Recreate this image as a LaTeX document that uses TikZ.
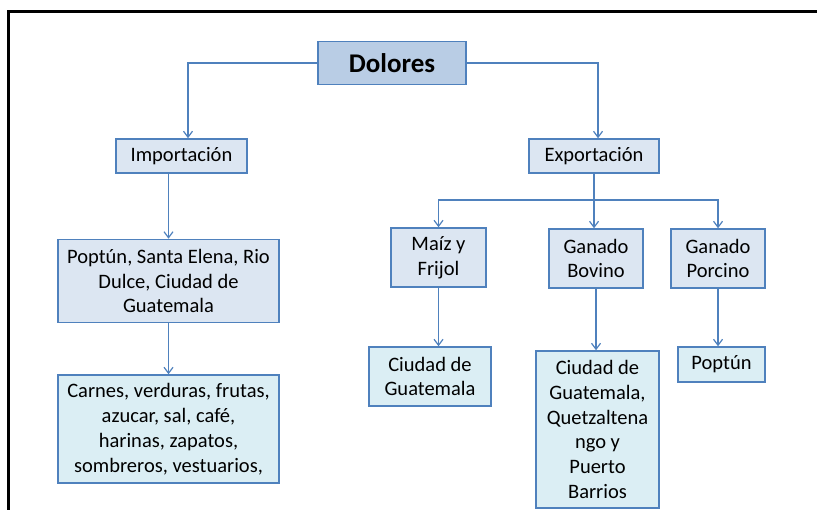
\documentclass[tikz,border=0pt]{standalone}
\usepackage{fontspec}
\setmainfont{Carlito}
\usetikzlibrary{arrows.meta}
\definecolor{lineblue}{HTML}{4F81BD}
\definecolor{topfill}{HTML}{B9CDE5}
\definecolor{midfill}{HTML}{DCE6F2}
\definecolor{lowfill}{HTML}{DBEEF4}
\tikzset{
  box/.style={draw=lineblue, line width=1.5pt, inner sep=0pt, align=center,
    font=\fontsize{20.5}{24.8}\selectfont},
  midbox/.style={box, fill=midfill},
  lowbox/.style={box, fill=lowfill},
  conn/.style={draw=lineblue, line width=1.4pt},
  arr/.style={conn, -{Straight Barb[length=6pt,width=9pt,line width=1.2pt]}},
}
\begin{document}
\begin{tikzpicture}[x=1pt,y=-1pt]
\useasboundingbox (0,0) rectangle (817,510);
\draw[line width=3pt, black] (817,11.3) -- (8.8,11.3) -- (8.8,510);

\node[box, fill=topfill, minimum width=148pt, minimum height=43pt,
  font=\fontsize{27}{30}\selectfont\bfseries] (dol) at (392,63) {Dolores};
\node[midbox, minimum width=131pt, minimum height=34pt] (imp) at (181.5,156) {Importación};
\node[midbox, minimum width=130pt, minimum height=34pt] (exp) at (594,156) {Exportación};
\node[midbox, minimum width=221pt, minimum height=83pt] (pop) at (168.5,281)
  {Poptún, Santa Elena, Rio\\Dulce, Ciudad de\\Guatemala};
\node[lowbox, minimum width=221pt, minimum height=108pt] (car) at (168.5,429)
  {Carnes, verduras, frutas,\\azucar, sal, café,\\harinas, zapatos,\\sombreros, vestuarios,};
\node[midbox, minimum width=95pt, minimum height=59pt] (mai) at (438.5,257.5) {Maíz y\\Frijol};
\node[midbox, minimum width=94pt, minimum height=59pt] (bov) at (596,258.5) {Ganado\\Bovino};
\node[midbox, minimum width=94pt, minimum height=59pt] (por) at (718,258.5) {Ganado\\Porcino};
\node[lowbox, minimum width=122pt, minimum height=59pt] (cil) at (430,376.5) {Ciudad de\\Guatemala};
\node[lowbox, minimum width=123pt, minimum height=157pt] (cib) at (597.5,429.5)
  {Ciudad de\\Guatemala,\\Quetzaltena\\ngo y\\Puerto\\Barrios};
\node[lowbox, minimum width=87pt, minimum height=35pt] (ppr) at (721.5,364.5) {Poptún};

\draw[arr] (dol.west) -| ([xshift=6.5pt]imp.north);
\draw[arr] (dol.east) -| ([xshift=4pt]exp.north);
\draw[arr] (imp.south -| pop.north) -- (pop.north);
\draw[arr] (pop.south) -- (car.north);
\coordinate (j) at (594,200);
\draw[conn] (exp.south) -- (j);
\draw[arr] (j) -- (j |- bov.north);
\draw[arr] (j) -| (mai.north);
\draw[arr] (j) -| (por.north);
\draw[arr] (mai.south) -- (mai.south |- cil.north);
\draw[arr] (bov.south) -- (bov.south |- cib.north);
\draw[arr] (por.south) -- (por.south |- ppr.north);
\end{tikzpicture}
\end{document}
